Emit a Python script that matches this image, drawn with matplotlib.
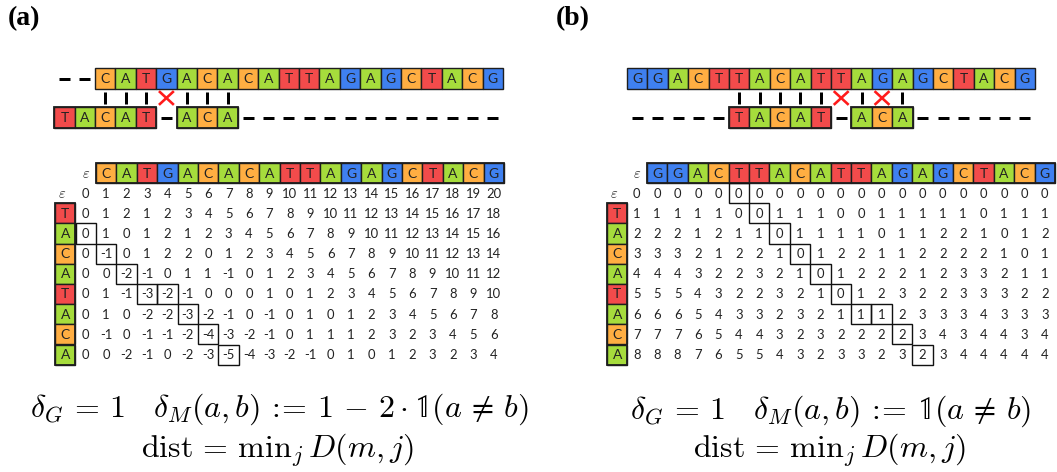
import matplotlib.pyplot as plt
from matplotlib.patches import Rectangle

plt.rcParams['mathtext.fontset'] = 'cm'

# base colours
base_colors = {'A': '#a6dc3c', 'C': '#ffae42', 'G': '#3f80f0', 'T': '#f24b4b'}

query = "TACATACA"
ref_a = "CATGACACATTAGAGCTACG"
ref_b = "GGACTTACATTAGAGCTACG"

# alignment picture: query blocks (start column, bases), dashes, match bars, mismatch crosses
a_top_dashes = [-2, -1]
a_blocks = [(-2, "TACAT"), (4, "ACA")]
a_bottom_dashes = [3, 7, 8, 9, 10, 11, 12, 13, 14, 15, 16, 17, 18, 19]
a_matches = [0, 1, 2, 4, 5, 6]
a_crosses = [3]

b_top_dashes = []
b_blocks = [(5, "TACAT"), (11, "ACA")]
b_bottom_dashes = [0, 1, 2, 3, 4, 10, 14, 15, 16, 17, 18, 19]
b_matches = [5, 6, 7, 8, 9, 11, 13]
b_crosses = [10, 12]

# DP tables (rows: eps, T, A, C, A, T, A, C, A)
D_a = [
    [0, 1, 2, 3, 4, 5, 6, 7, 8, 9, 10, 11, 12, 13, 14, 15, 16, 17, 18, 19, 20],
    [0, 1, 2, 1, 2, 3, 4, 5, 6, 7, 8, 9, 10, 11, 12, 13, 14, 15, 16, 17, 18],
    [0, 1, 0, 1, 2, 1, 2, 3, 4, 5, 6, 7, 8, 9, 10, 11, 12, 13, 14, 15, 16],
    [0, -1, 0, 1, 2, 2, 0, 1, 2, 3, 4, 5, 6, 7, 8, 9, 10, 11, 12, 13, 14],
    [0, 0, -2, -1, 0, 1, 1, -1, 0, 1, 2, 3, 4, 5, 6, 7, 8, 9, 10, 11, 12],
    [0, 1, -1, -3, -2, -1, 0, 0, 0, 1, 0, 1, 2, 3, 4, 5, 6, 7, 8, 9, 10],
    [0, 1, 0, -2, -2, -3, -2, -1, 0, -1, 0, 1, 0, 1, 2, 3, 4, 5, 6, 7, 8],
    [0, -1, 0, -1, -1, -2, -4, -3, -2, -1, 0, 1, 1, 1, 2, 3, 2, 3, 4, 5, 6],
    [0, 0, -2, -1, 0, -2, -3, -5, -4, -3, -2, -1, 0, 1, 0, 1, 2, 3, 2, 3, 4],
]
D_b = [
    [0, 0, 0, 0, 0, 0, 0, 0, 0, 0, 0, 0, 0, 0, 0, 0, 0, 0, 0, 0, 0],
    [1, 1, 1, 1, 1, 0, 0, 1, 1, 1, 0, 0, 1, 1, 1, 1, 1, 0, 1, 1, 1],
    [2, 2, 2, 1, 2, 1, 1, 0, 1, 1, 1, 1, 0, 1, 1, 2, 2, 1, 0, 1, 2],
    [3, 3, 3, 2, 1, 2, 2, 1, 0, 1, 2, 2, 1, 1, 2, 2, 2, 2, 1, 0, 1],
    [4, 4, 4, 3, 2, 2, 3, 2, 1, 0, 1, 2, 2, 2, 1, 2, 3, 3, 2, 1, 1],
    [5, 5, 5, 4, 3, 2, 2, 3, 2, 1, 0, 1, 2, 3, 2, 2, 3, 3, 3, 2, 2],
    [6, 6, 6, 5, 4, 3, 3, 2, 3, 2, 1, 1, 1, 2, 3, 3, 3, 4, 3, 3, 3],
    [7, 7, 7, 6, 5, 4, 4, 3, 2, 3, 2, 2, 2, 2, 3, 4, 3, 4, 4, 3, 4],
    [8, 8, 8, 7, 6, 5, 5, 4, 3, 2, 3, 3, 2, 3, 2, 3, 4, 4, 4, 4, 4],
]
# traceback cells (row, col)
path_a = [(2, 0), (3, 1), (4, 2), (5, 3), (5, 4), (6, 5), (7, 6), (8, 7)]
path_b = [(0, 5), (1, 6), (2, 7), (3, 8), (4, 9), (5, 10), (6, 11), (6, 12), (7, 13), (8, 14)]

formula_a = (r'$\delta_G\,=\,1 \quad \delta_M(a,b)\,:\!\!=\,1\,-\,2\cdot'
             r'\mathbb{1}(a \,\neq\, b)$')
formula_b = r'$\delta_G\,=\,1 \quad \delta_M(a,b)\,:\!\!=\,\mathbb{1}(a \,\neq\, b)$'
formula_dist = r'$\mathrm{dist}\,=\,\mathrm{min}_j\, D(m,j)$'

W = 20.4
H = 21
RH = 20.2
EDGE = '#1e1e1e'
TXT = dict(family='Lato', color='#222222')
PX = 0.72  # points per pixel at dpi 100

fig = plt.figure(figsize=(10.57, 4.72), dpi=100)
ax = fig.add_axes([0, 0, 1, 1])
ax.set_xlim(0, 1057)
ax.set_ylim(472, 0)
ax.axis('off')


def base_cell(x, y, b, h=H):
    ax.add_patch(Rectangle((x, y), W, h, facecolor=base_colors[b],
                           edgecolor=EDGE, lw=1.4 * PX, zorder=2))
    ax.text(x + W / 2, y + h / 2 + 0.5, b, ha='center', va='center',
            fontsize=10, zorder=3, **TXT)


def dash(xc, yc):
    ax.plot([xc - 5.5, xc + 5.5], [yc, yc], color='black', lw=3 * PX,
            solid_capstyle='butt')


def draw_alignment(x0, ref, top_dashes, blocks, bottom_dashes, matches, crosses):
    y_top, y_bot = 68, 107
    for k, b in enumerate(ref):
        base_cell(x0 + k * W, y_top, b)
    for k in top_dashes:
        dash(x0 + (k + 0.5) * W, y_top + H / 2)
    for start, seq in blocks:
        for k, b in enumerate(seq):
            base_cell(x0 + (start + k) * W, y_bot, b)
        ax.add_patch(Rectangle((x0 + start * W, y_bot), len(seq) * W, H,
                               fill=False, edgecolor=EDGE, lw=1.8 * PX, zorder=4))
    for k in bottom_dashes:
        dash(x0 + (k + 0.5) * W, y_bot + H / 2)
    for k in matches:
        xc = x0 + (k + 0.5) * W
        ax.plot([xc, xc], [92, 104], color='black', lw=3 * PX, solid_capstyle='butt')
    for k in crosses:
        xc = x0 + (k + 0.5) * W
        ax.plot([xc - 6.5, xc + 6.5], [92, 104], color='#ff1a1a', lw=2.6 * PX)
        ax.plot([xc - 6.5, xc + 6.5], [104, 92], color='#ff1a1a', lw=2.6 * PX)


def draw_table(xh, xl, ref, D, path):
    y_h = 163
    for k, b in enumerate(ref):
        base_cell(xh + k * W, y_h, b, h=20)
    ax.add_patch(Rectangle((xh, y_h), len(ref) * W, 20, fill=False,
                           edgecolor=EDGE, lw=1.8 * PX, zorder=4))
    col0 = xh - W / 2
    ax.text(col0, y_h + 10, r'$\varepsilon$', ha='center', va='center',
            fontsize=10.5, color='#333333')
    y0 = 193
    ax.text(xl + W / 2 - 3, y0, r'$\varepsilon$', ha='center', va='center',
            fontsize=10.5, color='#333333')
    for i, b in enumerate(query, start=1):
        ax.add_patch(Rectangle((xl, y0 + (i - 0.5) * RH), W, RH,
                               facecolor=base_colors[b], edgecolor=EDGE,
                               lw=1.4 * PX, zorder=2))
        ax.text(xl + W / 2, y0 + i * RH + 0.5, b, ha='center', va='center',
                fontsize=10, zorder=3, **TXT)
    ax.add_patch(Rectangle((xl, y0 + 0.5 * RH), W, len(query) * RH, fill=False,
                           edgecolor=EDGE, lw=1.8 * PX, zorder=4))
    for i, row in enumerate(D):
        for j, v in enumerate(row):
            ax.text(col0 + j * W, y0 + i * RH + 0.5, str(v), ha='center',
                    va='center', fontsize=9.4, **TXT)
    for i, j in path:
        ax.add_patch(Rectangle((col0 + (j - 0.5) * W, y0 + (i - 0.5) * RH), W, RH,
                               fill=False, edgecolor='#111111', lw=1.4 * PX, zorder=4))


# panel (a)
ax.text(8, 19, '(a)', ha='left', va='center', fontsize=20,
        fontweight='bold', family='Liberation Serif')
draw_alignment(95, ref_a, a_top_dashes, a_blocks, a_bottom_dashes, a_matches, a_crosses)
draw_table(96, 55, ref_a, D_a, path_a)
ax.text(279, 409, formula_a, ha='center', va='center', fontsize=23)
ax.text(278, 450, formula_dist, ha='center', va='center', fontsize=23)

# panel (b)
ax.text(556, 19, '(b)', ha='left', va='center', fontsize=20,
        fontweight='bold', family='Liberation Serif')
draw_alignment(627, ref_b, b_top_dashes, b_blocks, b_bottom_dashes, b_matches, b_crosses)
draw_table(647, 607, ref_b, D_b, path_b)
ax.text(831, 411, formula_b, ha='center', va='center', fontsize=23)
ax.text(830, 450, formula_dist, ha='center', va='center', fontsize=23)

fig.savefig('out.png', dpi=100)
